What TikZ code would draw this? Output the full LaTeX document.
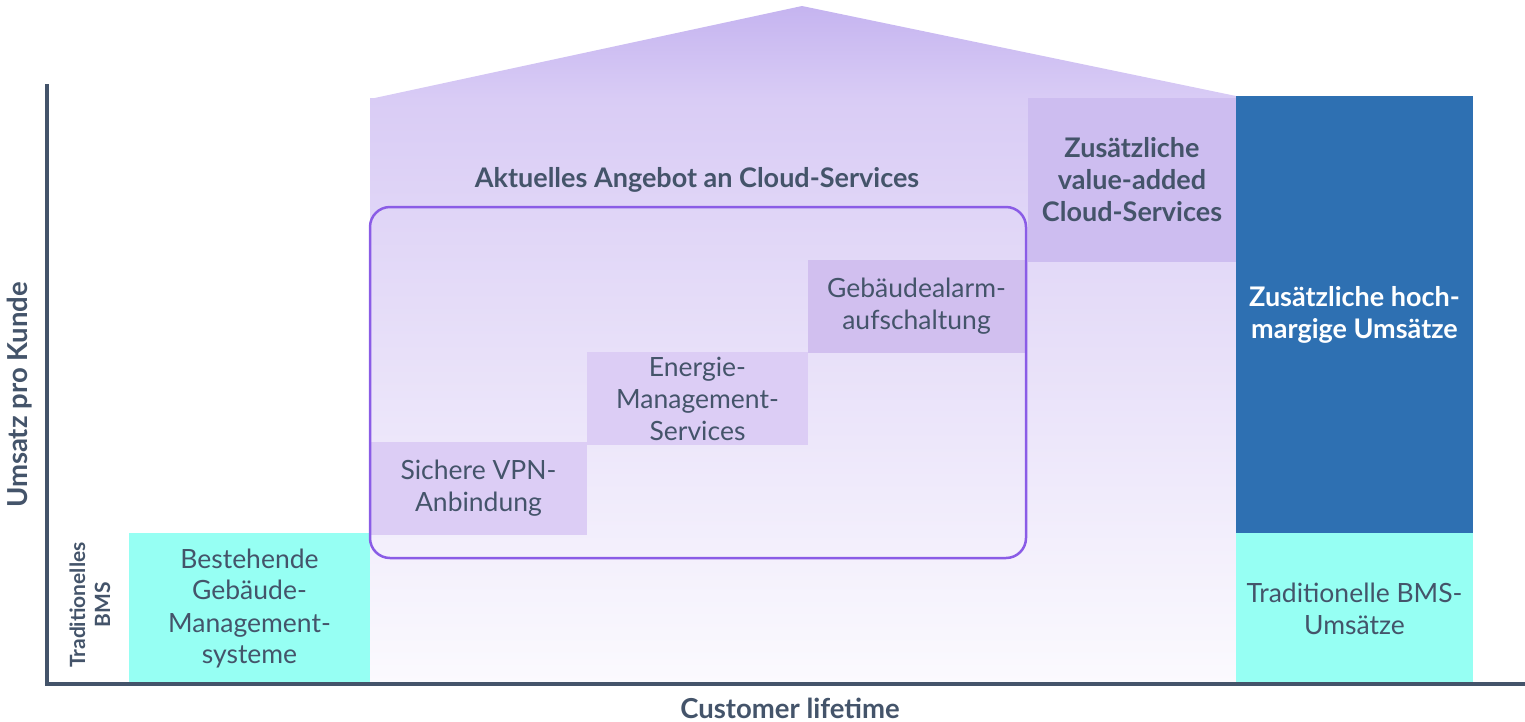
\documentclass[tikz,border=0pt]{standalone}
\usepackage{fontspec}
\setmainfont{Lato}
\usepackage{tikz}
\usetikzlibrary{positioning}

\definecolor{slate}{RGB}{68,84,106}
\definecolor{bmscyan}{RGB}{150,255,243}
\definecolor{hochblau}{RGB}{46,112,178}
\definecolor{dachtop}{RGB}{197,180,240}
\definecolor{dachmid}{RGB}{217,204,245}
\definecolor{dachbot}{RGB}{251,250,254}
\definecolor{addfill}{RGB}{205,189,240}
\definecolor{stepfill}{RGB}{220,205,245}
\definecolor{alarmfill}{RGB}{209,191,239}
\definecolor{rahmen}{RGB}{138,92,230}

\begin{document}
\begin{tikzpicture}[x=1pt,y=-1pt,
    box/.style={anchor=north west,inner sep=0pt,outer sep=0pt,align=center,
      text=slate,font=\fontsize{26.5}{32}\selectfont},
    boldbox/.style={box,font=\bfseries\fontsize{27}{32}\selectfont},
    axislabel/.style={text=slate,font=\bfseries\fontsize{27.5}{30}\selectfont,inner sep=0pt}]
  \useasboundingbox (0,0) rectangle (1525,721);

  % house: roof and body
  \shade[top color=dachtop,bottom color=dachmid]
    (370,99) -- (802,6) -- (1236,96) -- (1236,99) -- cycle;
  \shade[top color=dachmid,bottom color=dachbot]
    (370,98) rectangle (1236,684);

  % blocks
  \node[box,fill=bmscyan,minimum width=241,minimum height=151] (bms) at (129,533)
    {Bestehende\\Gebäude-\\Management-\\systeme};
  \node[boldbox,fill=addfill,minimum width=208,minimum height=164] (added) at (1028,98)
    {Zusätzliche\\value-added\\Cloud-Services};
  \node[boldbox,fill=hochblau,text=white,minimum width=237,minimum height=437] (hoch) at (1236,96)
    {Zusätzliche hoch-\\margige Umsätze};
  \node[box,fill=bmscyan,minimum width=237,minimum height=151,below=0pt of hoch.south west,anchor=north west] (trad)
    {Traditionelle BMS-\\Umsätze};

  % steps
  \node[box,fill=stepfill,minimum width=217,minimum height=93] (vpn) at (370,442)
    {Sichere VPN-\\Anbindung};
  \node[box,fill=stepfill,minimum width=221,minimum height=93] (energie) at (587,352)
    {Energie-\\Management-\\Services};
  \node[box,fill=alarmfill,minimum width=217,minimum height=93] (alarm) at (808,260)
    {Gebäudealarm-\\aufschaltung};

  % current offer
  \draw[rahmen,line width=2.5pt,rounded corners=20pt] (370,207) rectangle (1026,558);
  \node[boldbox,anchor=center] (angebot) at (697,180) {Aktuelles Angebot an Cloud-Services};

  % axes
  \coordinate (origin) at (47,684);
  \coordinate (ytop) at (47,84);
  \coordinate (xend) at (1525,684);
  \draw[slate,line width=3.5pt] (ytop) -- (origin) -- (xend);
  \node[axislabel,rotate=90] (umsatz) at (20,395) {Umsatz pro Kunde};
  \node[axislabel] (lifetime) at (790,708) {Customer lifetime};
  \node[axislabel,rotate=90,align=center,font=\bfseries\fontsize{21}{25}\selectfont] (tradbms) at (90,605)
    {Traditionelles\\BMS};
\end{tikzpicture}
\end{document}
